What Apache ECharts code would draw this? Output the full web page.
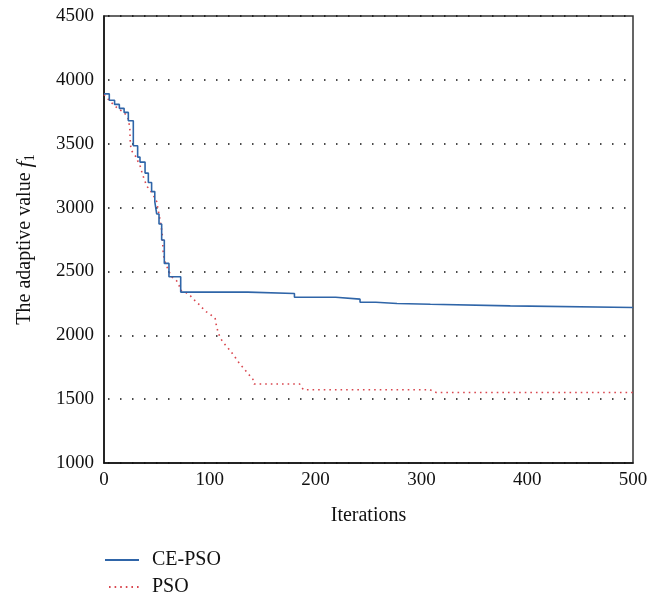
<!DOCTYPE html>
<html>
<head>
<meta charset="utf-8">
<script src="https://cdn.jsdelivr.net/npm/echarts@6/dist/echarts.min.js"></script>
<style>
  html, body { margin: 0; padding: 0; background: #fff; }
  #chart { width: 661px; height: 595px; }
</style>
</head>
<body>
<div id="chart"></div>
<script>
// CE-PSO best value, [iteration, value] at each change (step curve)
const cePso = [
  [0, 3890], [5, 3840], [10, 3808], [14.5, 3777], [19, 3745], [23, 3680],
  [27.7, 3484], [31.8, 3395], [34, 3356], [38.8, 3270], [41.9, 3196],
  [45, 3125], [48, 3046], [49.8, 2950], [52, 2871], [54.5, 2746],
  [57, 2563], [61.4, 2458], [72.5, 2338], [136, 2327], [180, 2298],
  [219, 2283], [242, 2259], [257, 2249], [277, 2243], [308.5, 2230],
  [384, 2218], [500, 2218]
];

// PSO best value
const pso = [
  [0, 3885], [3.8, 3850], [7, 3823], [10, 3797], [14, 3771], [17.6, 3752],
  [20.8, 3727], [23.3, 3688], [24.6, 3601], [24.6, 3549], [25.5, 3452],
  [30, 3400], [34.6, 3316], [36, 3270], [40.3, 3170], [45.6, 3112],
  [49.8, 3046], [51, 2989], [53, 2903], [55, 2798], [56, 2641], [57, 2589],
  [60.8, 2510], [64, 2458], [68.7, 2426], [70.9, 2392], [72, 2353],
  [77, 2338], [82, 2306], [86.5, 2267], [91, 2233], [95, 2194],
  [100, 2165], [105, 2136], [106, 2086], [107.5, 2034], [109.7, 1982],
  [112.8, 1943], [117, 1903], [121, 1861], [124.6, 1820], [128.4, 1775],
  [132.6, 1736], [136.4, 1696], [140.5, 1662], [141.8, 1618], [185, 1618],
  [188.4, 1574], [308, 1574], [314, 1552], [500, 1552]
];

const xTicks = [0, 100, 200, 300, 400, 500];
const yTicks = [1000, 1500, 2000, 2500, 3000, 3500, 4000, 4500];

const font = 'Liberation Serif';

let myChart = echarts.init(document.getElementById('chart'));
let options = {
  animation: false,
  textStyle: { fontFamily: font },
  grid: {
    left: 104, right: 28, top: 16, bottom: 132,
    show: true, borderColor: '#333', borderWidth: 1.5, backgroundColor: 'transparent'
  },
  legend: {
    orient: 'vertical',
    left: 99,
    top: 545,
    height: 70,
    itemWidth: 34,
    itemHeight: 12,
    itemGap: 7,
    itemStyle: { opacity: 0 },
    textStyle: { fontFamily: font, fontSize: 20, lineHeight: 20, color: '#111', padding: [0, 0, 0, 8] },
    data: ['CE-PSO', 'PSO']
  },
  xAxis: {
    type: 'value',
    min: xTicks[0],
    max: xTicks[xTicks.length - 1],
    interval: 100,
    name: 'Iterations',
    nameLocation: 'middle',
    nameGap: 43,
    nameTextStyle: { fontFamily: font, fontSize: 20, color: '#111' },
    axisLine: { lineStyle: { color: '#111', width: 1.5 } },
    axisTick: { show: false },
    axisLabel: { fontFamily: font, fontSize: 19, color: '#111', margin: 8, formatter: v => String(v) },
    splitLine: { show: false }
  },
  yAxis: {
    type: 'value',
    min: yTicks[0],
    max: yTicks[yTicks.length - 1],
    interval: 500,
    name: 'The adaptive value {i|f}{s|1}',
    nameLocation: 'middle',
    nameGap: 67,
    nameTextStyle: {
      fontFamily: font, fontSize: 20, color: '#111',
      rich: {
        i: { fontFamily: font, fontStyle: 'italic', fontSize: 22, color: '#111' },
        s: { fontFamily: font, fontSize: 14, color: '#111', verticalAlign: 'bottom', padding: [10, 0, 0, 0] }
      }
    },
    axisLine: { show: true, lineStyle: { color: '#111', width: 1.5 } },
    axisTick: { show: false },
    axisLabel: { fontFamily: font, fontSize: 19, color: '#111', margin: 10, formatter: v => String(v) },
    splitLine: {
      show: true,
      lineStyle: { color: '#111', width: 1.5, type: [1.5, 10.5], dashOffset: -4 }
    }
  },
  series: [
    {
      name: 'CE-PSO',
      type: 'line',
      step: 'end',
      symbol: 'none',
      data: cePso,
      lineStyle: { color: '#2f65a8', width: 1.6 },
      itemStyle: { color: '#2f65a8' },
      z: 3
    },
    {
      name: 'PSO',
      type: 'line',
      symbol: 'none',
      data: pso,
      lineStyle: { color: '#d9474f', width: 1.6, type: [1.6, 4] },
      itemStyle: { color: '#d9474f' },
      z: 2
    }
  ]
};
myChart.setOption(options);
</script>
</body>
</html>
